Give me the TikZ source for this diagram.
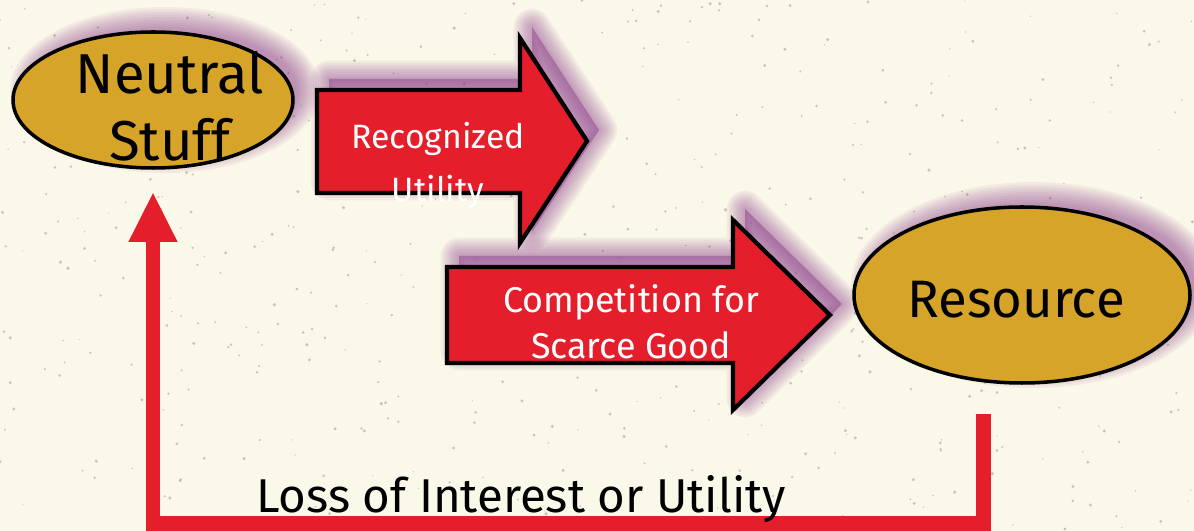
\documentclass[tikz,border=0pt]{standalone}
\usepackage{fontspec}
\setmainfont{Fira Sans}
\usetikzlibrary{arrows.meta,shapes.geometric}

\definecolor{paper}{RGB}{250,248,232}
\definecolor{speck}{RGB}{150,150,130}
\definecolor{gold}{RGB}{214,164,40}
\definecolor{blockred}{RGB}{228,30,42}
\definecolor{haze}{RGB}{140,60,140}

\tikzset{
  goldblob/.style={ellipse, fill=gold, draw=black, line width=1pt, inner sep=0pt},
  redblock/.style={fill=blockred, draw=black, line width=1.2pt, line join=miter},
  blocktext/.style={text=white, align=center, inner sep=0pt},
  blobtext/.style={text=black, align=center, inner sep=0pt},
  returnline/.style={draw=blockred, line width=0.15cm, line join=miter,
    -{Triangle[width=0.45cm,length=0.5cm]}},
}

\begin{document}
\begin{tikzpicture}
    % Paper
    \fill[paper] (0,0) rectangle (11.94,5.31);
    \useasboundingbox (0,0) rectangle (11.94,5.31);

    % Specks on the paper
    \pgfmathsetseed{7}
    \foreach \i in {1,...,520}{
        \pgfmathsetmacro{\sx}{11.94*rnd}
        \pgfmathsetmacro{\sy}{5.31*rnd}
        \pgfmathsetmacro{\sr}{0.006+0.012*rnd}
        \fill[speck, opacity=.5] (\sx,\sy) circle (\sr);
    }

    % Purple haze behind the ellipses
    \foreach \k in {1,...,10}{
        \fill[haze, opacity=.07] (1.65,4.41) ellipse ({1.30+0.025*\k} and {0.58+0.025*\k});
        \fill[haze, opacity=.07] (10.34,2.46) ellipse ({1.58+0.025*\k} and {0.78+0.025*\k});
    }

    % Purple haze behind the block arrows
    \begin{scope}[shift={(0.12,0.11)}]
        \foreach \w in {1,...,8}{
            \filldraw[haze, opacity=.07, line width=1.3*\w pt, line join=round]
                (3.17,4.41) -- (5.20,4.41) -- (5.20,4.93) -- (5.87,3.90)
                -- (5.20,2.88) -- (5.20,3.38) -- (3.17,3.38) -- cycle;
            \filldraw[haze, opacity=.07, line width=1.3*\w pt, line join=round]
                (4.47,2.64) -- (7.33,2.64) -- (7.33,3.11) -- (8.30,2.16)
                -- (7.33,1.21) -- (7.33,1.68) -- (4.47,1.68) -- cycle;
        }
    \end{scope}

    % Block arrows
    \filldraw[redblock] (3.17,4.41) -- (5.20,4.41) -- (5.20,4.93) -- (5.87,3.90)
        -- (5.20,2.88) -- (5.20,3.38) -- (3.17,3.38) -- cycle;
    \filldraw[redblock] (4.47,2.64) -- (7.33,2.64) -- (7.33,3.11) -- (8.30,2.16)
        -- (7.33,1.21) -- (7.33,1.68) -- (4.47,1.68) -- cycle;

    % Ellipses
    \node[goldblob, minimum width=2.80cm, minimum height=1.36cm] (neutral) at (1.53,4.31) {};
    \node[goldblob, minimum width=3.36cm, minimum height=1.76cm] (resource) at (10.22,2.36) {};

    % Labels
    \node[blobtext, font=\fontsize{16pt}{19pt}\selectfont] (neutraltext) at (1.70,4.25) {Neutral\\Stuff};
    \node[blobtext, font=\fontsize{15pt}{18pt}\selectfont, anchor=base] (resourcetext) at (10.16,2.13) {Resource};
    \node[blocktext, font=\fontsize{9.6pt}{15.1pt}\selectfont] (recogtext) at (4.38,3.66) {Recognized\\Utility};
    \node[blocktext, font=\fontsize{10.2pt}{13.1pt}\selectfont] (compettext) at (6.31,2.09) {Competition for\\Scarce Good};

    % Way back to the start
    \coordinate (outlet) at ([shift={(-0.39,-0.29)}]resource.south);
    \coordinate (inlet) at ([yshift=-0.22cm]neutral.south);
    \coordinate (floor) at (0,0.07);
    \draw[returnline] (outlet) -- (outlet |- floor) -- (floor -| inlet) -- (inlet);
    \node[blobtext, font=\fontsize{13.5pt}{16pt}\selectfont, anchor=base] (losstext) at (5.21,0.18) {Loss of Interest or Utility};
\end{tikzpicture}
\end{document}
